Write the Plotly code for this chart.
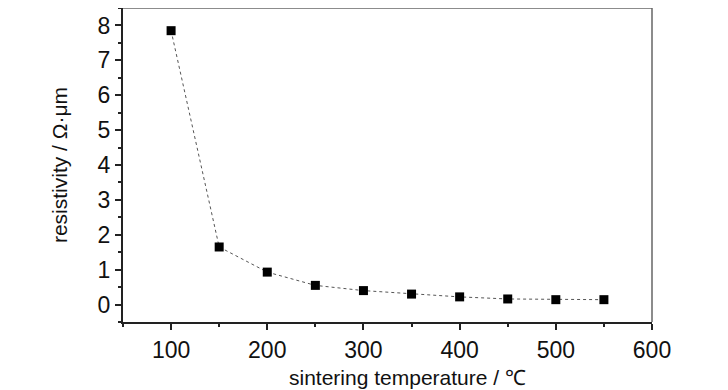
import plotly.graph_objects as go

temperature = [100, 150, 200, 250, 300, 350, 400, 450, 500, 550]
resistivity = [7.85, 1.65, 0.93, 0.55, 0.40, 0.30, 0.22, 0.16, 0.14, 0.14]

x_ticks = [100, 200, 300, 400, 500, 600]
y_ticks = [0, 1, 2, 3, 4, 5, 6, 7, 8]

FONT = "Liberation Sans, Arial, sans-serif"

fig = go.Figure()
fig.add_trace(go.Scatter(
    x=temperature, y=resistivity, mode="lines+markers",
    line=dict(color="#555555", width=1, dash="dot"),
    marker=dict(symbol="square", size=9, color="black"),
    showlegend=False,
))

# page body has an 8px margin, so the figure is sized 8px smaller
fig.update_layout(
    width=720, height=382,
    margin=dict(l=115, r=76, t=0, b=68),
    paper_bgcolor="white", plot_bgcolor="white",
    font=dict(family=FONT, color="#111111", size=21),
    xaxis=dict(
        range=[50, 600], tickvals=x_ticks, showgrid=False, zeroline=False,
        showline=True, linecolor="#222222", linewidth=2,
        ticks="outside", ticklen=6, tickwidth=1.5, tickcolor="#222222",
        minor=dict(dtick=50, tick0=50, ticks="outside", ticklen=3, tickwidth=1.5, tickcolor="#222222"),
        tickfont=dict(size=23),
    ),
    yaxis=dict(
        range=[-0.5, 8.5], tickvals=y_ticks, showgrid=False, zeroline=False,
        showline=True, linecolor="#222222", linewidth=2,
        ticks="outside", ticklen=6, tickwidth=1.5, tickcolor="#222222",
        minor=dict(dtick=0.5, tick0=0, ticks="outside", ticklen=3, tickwidth=1.5, tickcolor="#222222"),
        tickfont=dict(size=23),
        title=dict(text="resistivity / Ω·μm", font=dict(size=21), standoff=24),
    ),
    annotations=[
        dict(text="sintering temperature / ℃", xref="paper", yref="paper",
             x=0.537, y=0, yshift=-55, xanchor="center", yanchor="middle",
             showarrow=False, font=dict(size=21)),
    ],
    shapes=[
        dict(type="line", xref="paper", yref="paper", x0=0, x1=1, y0=1, y1=1,
             line=dict(color="#666666", width=1.5)),
        dict(type="line", xref="paper", yref="paper", x0=1, x1=1, y0=0, y1=1,
             line=dict(color="#666666", width=1.5)),
    ],
)

fig.write_html("out.html")
